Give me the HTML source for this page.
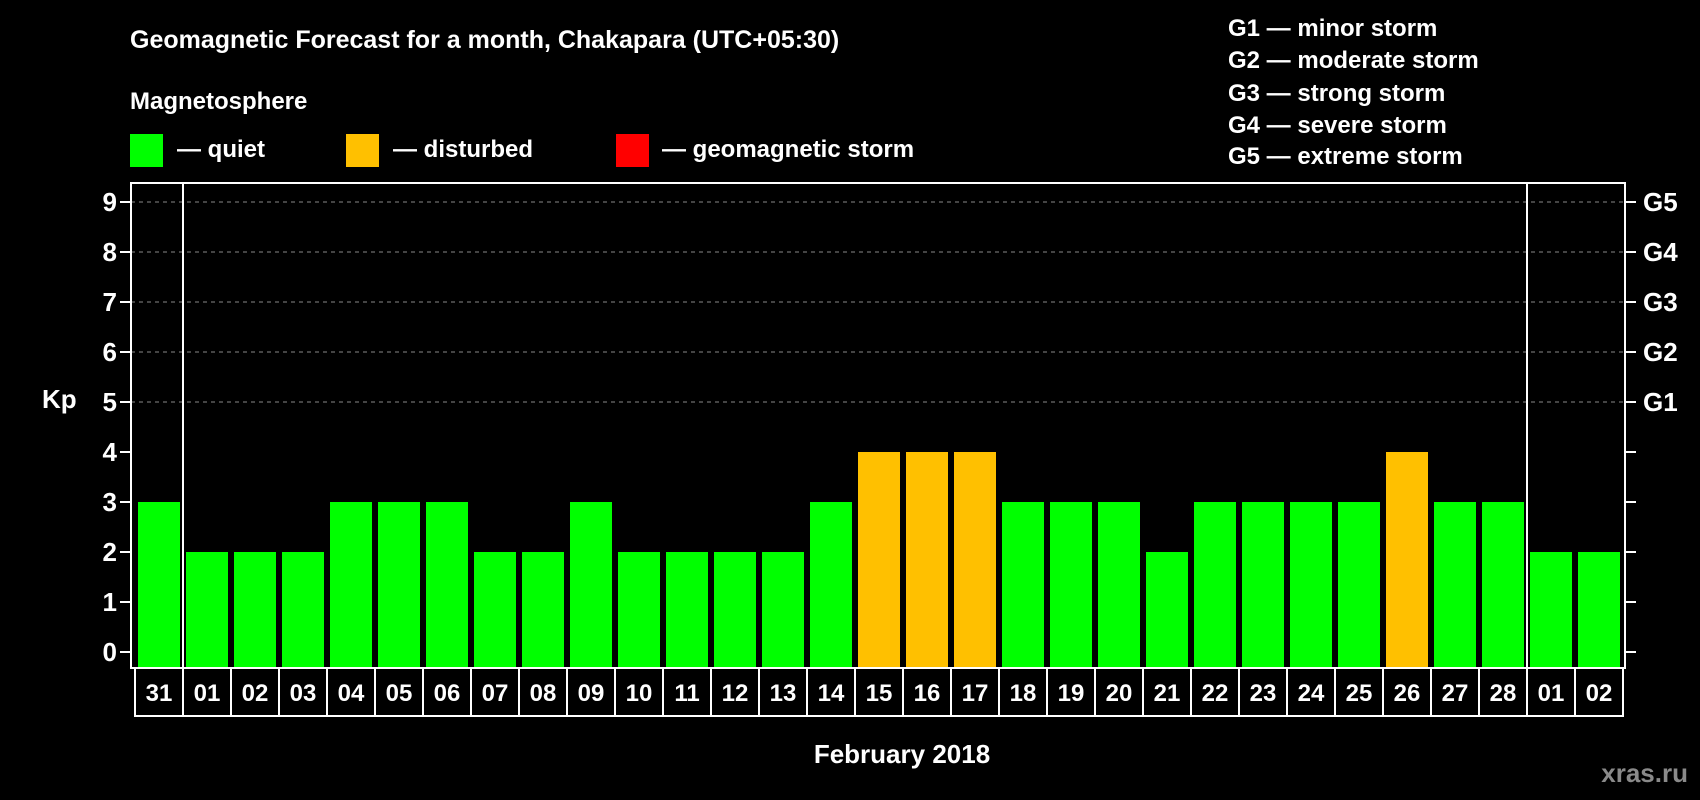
<!DOCTYPE html>
<html><head><meta charset="utf-8"><style>
body{margin:0;background:#000;width:1700px;height:800px;overflow:hidden}
svg{display:block}
text{font-family:"Liberation Sans",Arial,sans-serif;font-weight:bold;fill:#fff}
</style></head><body>
<svg id="chart" width="1700" height="800">
<text x="130" y="48" font-size="25">Geomagnetic Forecast for a month, Chakapara (UTC+05:30)</text>
<text x="130" y="109" font-size="24">Magnetosphere</text>
<rect x="130" y="134" width="33" height="33" fill="#00ff00"/>
<text x="177" y="157" font-size="24">— quiet</text>
<rect x="346" y="134" width="33" height="33" fill="#ffc000"/>
<text x="393" y="157" font-size="24">— disturbed</text>
<rect x="616" y="134" width="33" height="33" fill="#ff0000"/>
<text x="662" y="157" font-size="24">— geomagnetic storm</text>
<g font-size="24">
<text x="1228" y="36">G1 — minor storm</text>
<text x="1228" y="68">G2 — moderate storm</text>
<text x="1228" y="101">G3 — strong storm</text>
<text x="1228" y="133">G4 — severe storm</text>
<text x="1228" y="164">G5 — extreme storm</text>
</g>
<text x="42" y="408" font-size="26">Kp</text>
<text x="902" y="763" font-size="26" text-anchor="middle">February 2018</text>
<text x="1688" y="782" font-size="26" text-anchor="end" style="fill:#8a8a8a">xras.ru</text>
<g id="plot"></g>
</svg>
<script>
const days=["31","01","02","03","04","05","06","07","08","09","10","11","12","13","14","15","16","17","18","19","20","21","22","23","24","25","26","27","28","01","02"];
const kpValues=[3,2,2,2,3,3,3,2,2,3,2,2,2,2,3,4,4,4,3,3,3,2,3,3,3,3,4,3,3,2,2];
const yTicks=[0,1,2,3,4,5,6,7,8,9];
const gLabels=["G1","G2","G3","G4","G5"];
const NS="http://www.w3.org/2000/svg";
const plot=document.getElementById('plot');
const L=131,R=1625,T=183,B=668,slot0=135,slotW=48;
const y=v=>652-v*50;
const x=i=>slot0+i*slotW;
function mk(tag,attrs){const e=document.createElementNS(NS,tag);for(const k in attrs)e.setAttribute(k,attrs[k]);plot.appendChild(e);return e;}
// grid
yTicks.forEach(v=>{
 if(v>=5){const g=mk('line',{x1:L,x2:R,y1:y(v),y2:y(v),stroke:'#888','stroke-dasharray':'4,4','stroke-width':1});
 
 }
 const t1=mk('line',{x1:L-11,x2:L,y1:y(v),y2:y(v),stroke:'#fff','stroke-width':2});
 
 
 const t2=mk('line',{x1:R,x2:R+11,y1:y(v),y2:y(v),stroke:'#fff','stroke-width':2});
 
 
 const lb=mk('text',{x:117,y:y(v)+9,'font-size':26,'text-anchor':'end'});lb.textContent=v;
 
 
});
gLabels.forEach((g,i)=>{
 const t=mk('text',{x:1643,y:y(i+5)+9,'font-size':26});t.textContent=g;
 
 
});
kpValues.forEach((v,i)=>{
 const col=v>=5?'#ff0000':(v>=4?'#ffc000':'#00ff00');
 const b=mk('rect',{x:x(i)+3,y:y(v),width:42,height:B-y(v),fill:col});
 
 
 const c=mk('rect',{x:x(i),y:B,width:slotW,height:48,fill:'none',stroke:'#fff','stroke-width':2});
 
 
 const t=mk('text',{x:x(i)+slotW/2,y:B+33,'font-size':24,'text-anchor':'middle'});t.textContent=days[i];
 
 
});
const fr=mk('rect',{x:L,y:T,width:R-L,height:B-T,fill:'none',stroke:'#fff','stroke-width':2});


[1,29].forEach(i=>{
 const d=mk('line',{x1:x(i),x2:x(i),y1:T,y2:B,stroke:'#fff','stroke-width':2});
 
 
});
</script>
</body></html>
